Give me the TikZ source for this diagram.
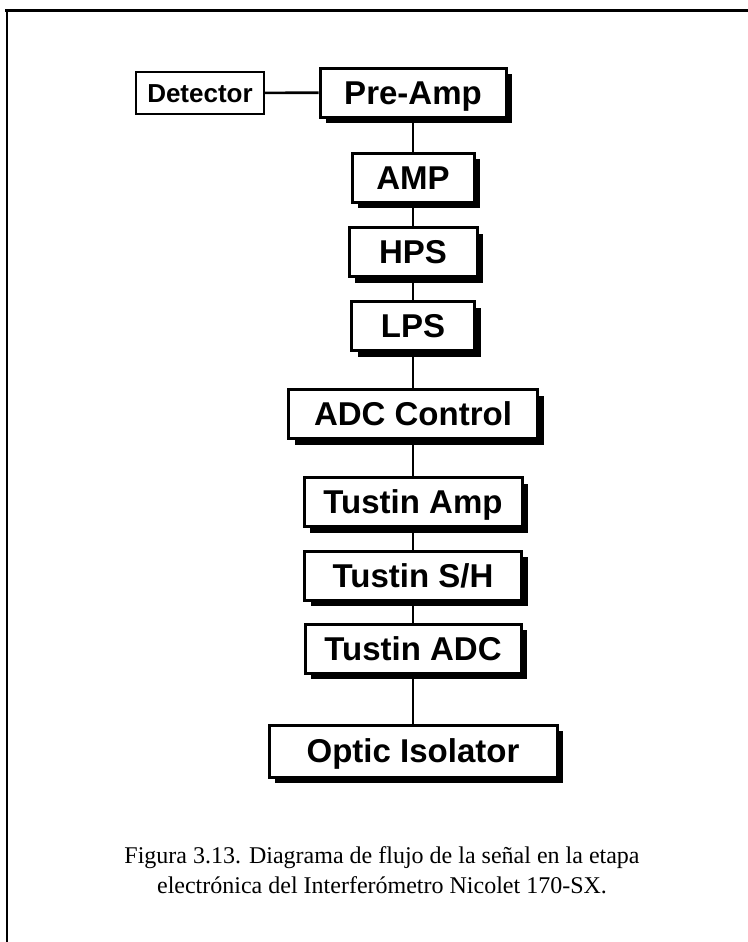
\documentclass[tikz,border=0pt]{standalone}
\usepackage{fontspec}
\setmainfont{Liberation Serif}
\setsansfont{Liberation Sans}
\usetikzlibrary{shadows}
\tikzset{
  blk/.style={draw, line width=1.5pt, fill=white, inner sep=0pt, minimum height=24.5pt,
    text height=11.8pt, text depth=0pt,
    font=\sffamily\bfseries\fontsize{16.5}{19}\selectfont,
    drop shadow={shadow xshift=3.2pt, shadow yshift=-3.2pt, fill=black, opacity=1}},
  src/.style={draw, line width=1pt, fill=white, inner sep=0pt, minimum width=64pt,
    minimum height=21pt, text height=9.3pt, text depth=0pt,
    font=\sffamily\bfseries\fontsize{13}{16}\selectfont},
  wire/.style={line width=1.3pt},
  edge rule/.style={line width=1.5pt},
}

\begin{document}
\begin{tikzpicture}[x=0.5pt,y=-0.5pt]
  \useasboundingbox (0,0) rectangle (748,942);
  \draw[edge rule] (5,10) -- (748,10);
  \draw[line width=1pt] (7,9) -- (7,942);
  \node[src] (det) at (200,93) {Detector};
  \node[blk, minimum width=93pt] (pre) at (413,92.5) {Pre-Amp};
  \node[blk, minimum width=61pt] (amp) at (413,177.5) {AMP};
  \node[blk, minimum width=64pt] (hps) at (413,252) {HPS};
  \node[blk, minimum width=61.5pt] (lps) at (413,326) {LPS};
  \node[blk, minimum width=124.5pt] (adc) at (413,414) {ADC Control};
  \node[blk, minimum width=109pt] (tamp) at (413,502) {Tustin Amp};
  \node[blk, minimum width=108.5pt] (tsh) at (413,575.5) {Tustin S/H};
  \node[blk, minimum width=108pt] (tadc) at (413,648.5) {Tustin ADC};
  \node[blk, minimum width=144pt, minimum height=26pt] (opt) at (413,751) {Optic Isolator};
  \draw[wire] (det) -- (pre);
  \foreach \a/\b in {pre/amp, amp/hps, hps/lps, lps/adc, adc/tamp, tamp/tsh, tsh/tadc, tadc/opt}
    \draw[wire] (\a) -- (\b);
  \node[align=center, font=\fontsize{12}{15}\selectfont] (cap) at (382,870)
    {Figura 3.13. Diagrama de flujo de la señal en la etapa\\
     electrónica del Interferómetro Nicolet 170-SX.};
\end{tikzpicture}
\end{document}
